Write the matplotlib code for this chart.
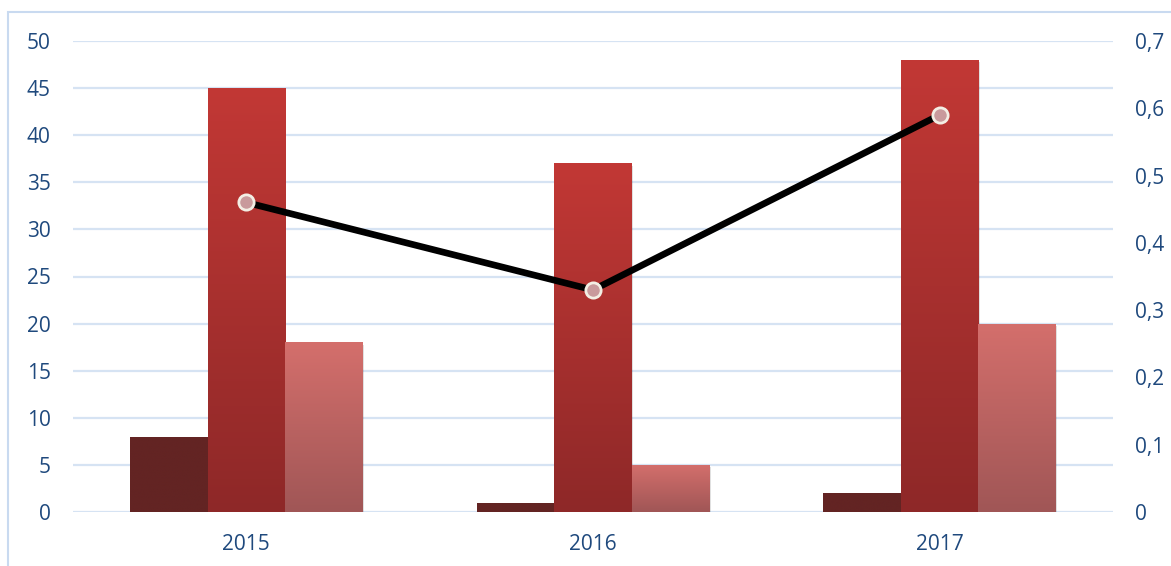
import numpy as np
import matplotlib
matplotlib.use("Agg")
import matplotlib.pyplot as plt
from matplotlib.patches import Rectangle
from matplotlib.colors import LinearSegmentedColormap
from matplotlib.ticker import FuncFormatter

plt.rcParams['font.family'] = ['Open Sans', 'DejaVu Sans']

years = ['2015', '2016', '2017']
dark_vals = [8, 1, 2]
red_vals = [45, 37, 48]
pink_vals = [18, 5, 20]
line_vals = [0.46, 0.33, 0.59]

text_col = '#1F497D'
grid_col = '#D6E3F3'

fig = plt.figure(figsize=(11.71, 5.66), dpi=100)
ax = fig.add_axes([73/1171, 1-512/566, 1040/1171, 471/566])

# chart border
fig.patches.append(Rectangle((8/1171, -0.01), 1.02, 1-12/566+0.01, transform=fig.transFigure,
                             fill=False, edgecolor='#C9DAF0', linewidth=1.5))

x = np.arange(len(years))
w = 0.2236

def grad_bars(xs, vals, top, bottom):
    cmap = LinearSegmentedColormap.from_list('g', [bottom, top])
    bars = ax.bar(xs, vals, w, color=top, linewidth=0, zorder=2)
    for b in bars:
        bx, by = b.get_x(), b.get_y()
        bw, bh = b.get_width(), b.get_height()
        # soft shadow
        ax.add_patch(Rectangle((bx + 0.004, by - 0.25), bw, bh, facecolor='#000000',
                               alpha=0.12, linewidth=0, zorder=1.9))
        img = ax.imshow(np.linspace(0, 1, 256).reshape(-1, 1), cmap=cmap, origin='lower',
                        extent=[bx, bx + bw, by, by + bh], aspect='auto', zorder=2.1)
        img.set_clip_path(b)
    return bars

grad_bars(x - w, dark_vals, '#632423', '#632423')
grad_bars(x, red_vals, '#C23835', '#8E2828')
grad_bars(x + w, pink_vals, '#D46F6C', '#A05656')

ax.set_xlim(-0.5, 2.5)
ax.set_ylim(0, 50)
ax.set_yticks(range(0, 51, 5))
ax.set_xticks(x)
ax.set_xticklabels(years)
ax.yaxis.grid(True, color=grid_col, linewidth=1.6, zorder=0)
ax.set_axisbelow(True)
for s in ax.spines.values():
    s.set_visible(False)
ax.tick_params(axis='both', length=0, labelsize=15, colors=text_col)
ax.tick_params(axis='y', pad=16)
ax.tick_params(axis='x', pad=16)

ax2 = ax.twinx()
ax2.set_ylim(0, 0.7)
ax2.set_yticks(np.arange(0, 0.71, 0.1))
ax2.yaxis.set_major_formatter(FuncFormatter(lambda v, p: '0' if abs(v) < 1e-9 else ('%.1f' % v).replace('.', ',')))
for s in ax2.spines.values():
    s.set_visible(False)
ax2.tick_params(axis='y', length=0, labelsize=15, colors=text_col, pad=16)
ax2.plot(x, line_vals, color='#000000', linewidth=4.8, zorder=3, solid_capstyle='round')
ax2.plot(x, line_vals, linestyle='none', marker='o', markersize=11,
         markerfacecolor='#C99A9C', markeredgecolor='#F3EEE4', markeredgewidth=2, zorder=4)

fig.savefig('out.png', dpi=100)
